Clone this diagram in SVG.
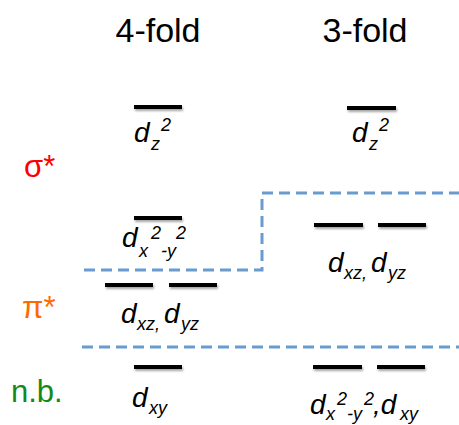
<svg xmlns="http://www.w3.org/2000/svg" width="459" height="425" viewBox="0 0 459 425">
<defs>
<filter id="sh" filterUnits="userSpaceOnUse" x="0" y="0" width="459" height="425">
<feDropShadow dx="1" dy="2" stdDeviation="1.2" flood-color="#000" flood-opacity="0.35"/>
</filter>
</defs>
<style>
.bar{stroke:#000;stroke-width:4;fill:none;filter:url(#sh)}
.dash{stroke:#6A9BD0;stroke-width:3;fill:none;stroke-dasharray:11 6}
.hdr{font-family:"Liberation Sans",Arial,sans-serif;font-size:34px;fill:#000}
.lab{font-family:"Liberation Sans",Arial,sans-serif;font-style:italic;fill:#000}
.d{font-size:28px}
.s{font-size:18px}
.side{font-family:"Liberation Sans",Arial,sans-serif;font-size:31px}
</style>
<rect width="459" height="425" fill="#fff"/>
<g id="headers">
<text class="hdr" x="158" y="42" text-anchor="middle">4-fold</text>
<text class="hdr" x="365" y="42" text-anchor="middle">3-fold</text>
</g>
<g id="side-labels">
<text class="side" x="24" y="177" font-size="34" fill="#FF0000">σ*</text>
<text class="side" x="22" y="318" fill="#FF6A00">π*</text>
<text class="side" x="11" y="402" fill="#13891A">n.b.</text>
</g>
<g id="connectors">
<path class="dash" d="M84 270 H262 V193 H459"/>
<path class="dash" d="M82 347 H459"/>
</g>
<g id="f4-dz2">
<line class="bar" x1="134" y1="107" x2="182" y2="107"/>
<text class="lab d" x="134" y="142">d</text>
<text class="lab s" x="151" y="150">z</text>
<text class="lab s" x="161" y="131">2</text>
</g>
<g id="f4-dx2y2">
<line class="bar" x1="134" y1="218" x2="182" y2="218"/>
<text class="lab d" x="122" y="247">d</text>
<text class="lab s" x="139" y="257">x</text>
<text class="lab s" x="151" y="239">2</text>
<text class="lab s" x="161" y="257">-y</text>
<text class="lab s" x="176" y="239">2</text>
</g>
<g id="f4-dxzdyz">
<line class="bar" x1="105" y1="285" x2="153" y2="285"/>
<line class="bar" x1="169" y1="285" x2="217" y2="285"/>
<text class="lab d" x="121" y="323">d</text>
<text class="lab s" x="137" y="330">xz,</text>
<text class="lab d" x="164" y="323">d</text>
<text class="lab s" x="181" y="330">yz</text>
</g>
<g id="f4-dxy">
<line class="bar" x1="134" y1="367" x2="182" y2="367"/>
<text class="lab d" x="132" y="407">d</text>
<text class="lab s" x="149" y="414">xy</text>
</g>
<g id="f3-dz2">
<line class="bar" x1="347" y1="108" x2="396" y2="108"/>
<text class="lab d" x="352" y="142">d</text>
<text class="lab s" x="369" y="150">z</text>
<text class="lab s" x="379" y="131">2</text>
</g>
<g id="f3-dxzdyz">
<line class="bar" x1="314" y1="225" x2="363" y2="225"/>
<line class="bar" x1="378" y1="225" x2="426" y2="225"/>
<text class="lab d" x="328" y="272">d</text>
<text class="lab s" x="344" y="279">xz,</text>
<text class="lab d" x="371" y="272">d</text>
<text class="lab s" x="388" y="279">yz</text>
</g>
<g id="f3-dx2y2dxy">
<line class="bar" x1="313" y1="367" x2="362" y2="367"/>
<line class="bar" x1="377" y1="367" x2="425" y2="367"/>
<text class="lab d" x="310" y="414">d</text>
<text class="lab s" x="326" y="420">x</text>
<text class="lab s" x="337" y="405">2</text>
<text class="lab s" x="347" y="420">-y</text>
<text class="lab s" x="364" y="405">2</text>
<text class="lab d" x="373" y="414">,d</text>
<text class="lab s" x="400" y="420">xy</text>
</g>
</svg>
